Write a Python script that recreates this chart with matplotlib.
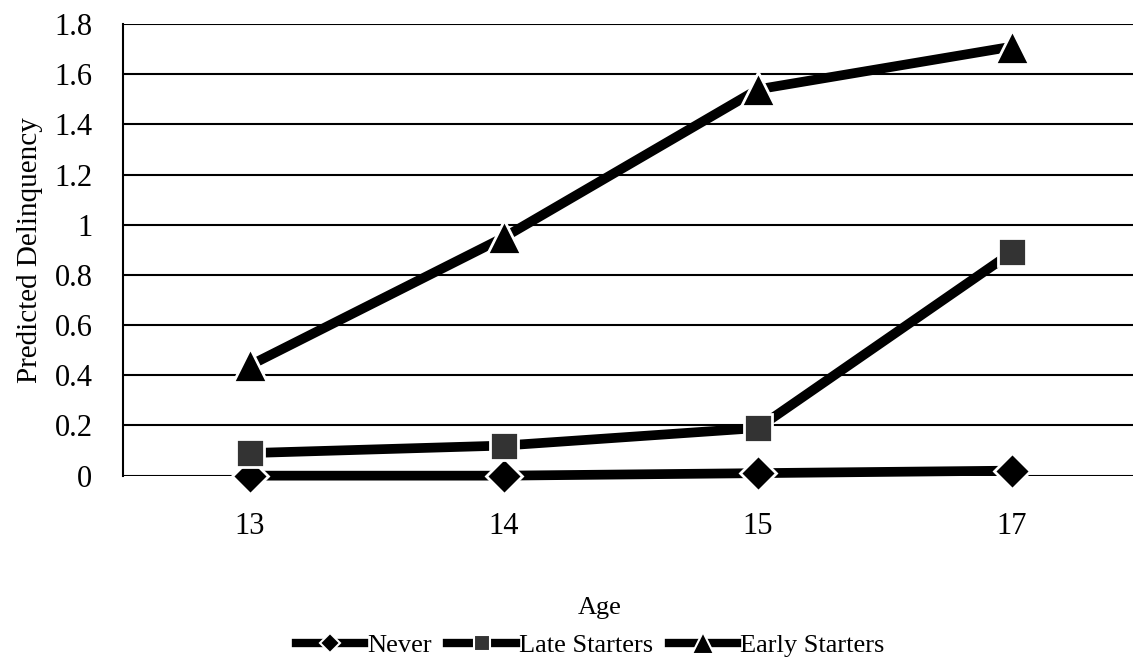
import matplotlib
matplotlib.use("Agg")
import matplotlib.pyplot as plt
from matplotlib.lines import Line2D

# values
ages = ["13", "14", "15", "17"]
never = [0.0, 0.0, 0.01, 0.02]
late_starters = [0.09, 0.12, 0.19, 0.89]
early_starters = [0.44, 0.95, 1.54, 1.71]
yticks = [0, 0.2, 0.4, 0.6, 0.8, 1, 1.2, 1.4, 1.6, 1.8]
ytick_labels = ["0", "0.2", "0.4", "0.6", "0.8", "1", "1.2", "1.4", "1.6", "1.8"]

plt.rcParams['font.family'] = ['Liberation Serif', 'DejaVu Serif']

fig = plt.figure(figsize=(11.33, 6.69), dpi=100)
ax = fig.add_axes([123 / 1133, 0.289, 1016 / 1133, 0.675])

x = list(range(len(ages)))

for yv in yticks:
    ax.axhline(yv, color="black", lw=1.5, zorder=1)

ax.plot(x, never, color="black", lw=7, marker="D", ms=18,
        mfc="black", mec="white", mew=2, zorder=3, clip_on=False)
ax.plot(x, late_starters, color="black", lw=7, marker="s", ms=20,
        mfc="#333333", mec="white", mew=2, zorder=3, clip_on=False)
ax.plot(x, early_starters, color="black", lw=7, marker="^", ms=25,
        mfc="black", mec="white", mew=2, zorder=3, clip_on=False)

ax.set_xlim(-0.5, 3.5)
ax.set_ylim(0, 1.8)
ax.set_xticks(x)
ax.set_xticklabels(ages, fontsize=22)
ax.set_yticks(yticks)
ax.set_yticklabels(ytick_labels, fontsize=22)
ax.tick_params(axis="both", length=0)
ax.tick_params(axis="x", pad=26)
ax.tick_params(axis="y", pad=22)

for side in ["top", "right", "bottom"]:
    ax.spines[side].set_visible(False)
ax.spines["left"].set_linewidth(1.5)

ax.set_ylabel("Predicted Delinquency", fontsize=21, labelpad=8)
fig.text(600 / 1133, 1 - 608 / 669, "Age", fontsize=19, ha="center", va="center")

handles = [
    Line2D([], [], color="black", lw=6, marker="D", ms=10, mfc="black", mec="white", mew=1.5),
    Line2D([], [], color="black", lw=6, marker="s", ms=12, mfc="#333333", mec="white", mew=1.5),
    Line2D([], [], color="black", lw=6, marker="^", ms=16, mfc="black", mec="white", mew=1.5),
]
fig.legend(handles, ["Never", "Late Starters", "Early Starters"],
           loc="center", bbox_to_anchor=(590 / 1133, 1 - 645 / 669), ncol=3,
           frameon=False, fontsize=19, handlelength=2.6, handletextpad=0.1,
           columnspacing=0.6)

fig.savefig("out.png", dpi=100)
